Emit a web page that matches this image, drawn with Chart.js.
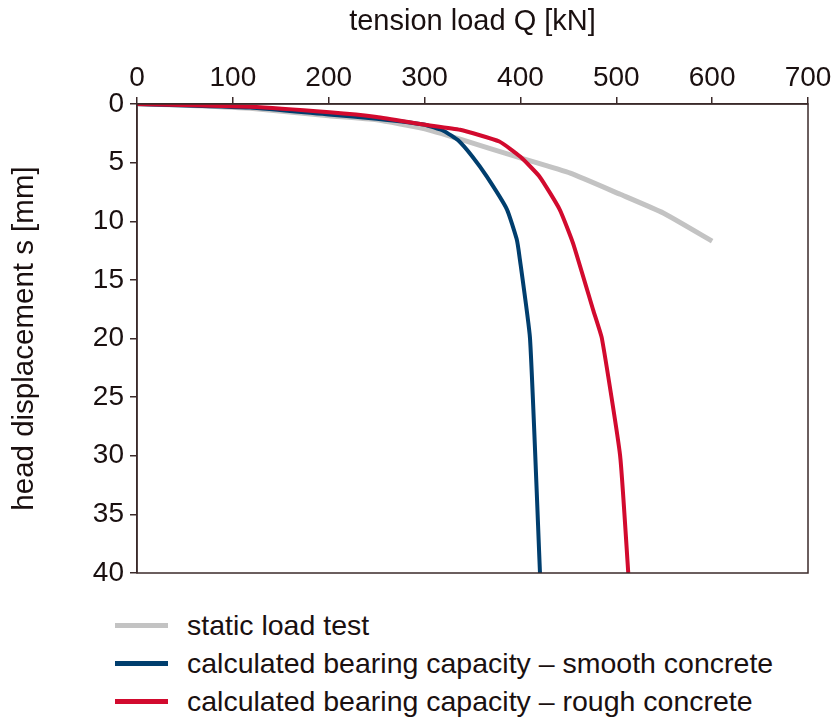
<!DOCTYPE html>
<html><head><meta charset="utf-8">
<script src="https://cdn.jsdelivr.net/npm/chart.js@4/dist/chart.umd.min.js"></script>
<style>
html,body{margin:0;padding:0;background:#fff;}
#wrap{position:relative;width:834px;height:600px;}
#legend{position:absolute;left:0;top:600px;width:834px;font-family:"Liberation Sans",Arial,sans-serif;font-size:28.5px;color:#1a1010;}
.li{position:absolute;left:115px;height:38px;display:flex;align-items:center;}
.sw{width:53px;height:5px;margin-right:19px;}
</style></head>
<body>
<div id="wrap"><canvas id="c" width="834" height="600"></canvas></div>
<div id="legend"></div>
<script>
const seriesNames = ["static load test","calculated bearing capacity \u2013 smooth concrete","calculated bearing capacity \u2013 rough concrete"];
const seriesColors = ["#c3c3c3","#003e6e","#d20a2e"];
const staticQ = [0,50,118,200,250,299,337,400,452,504,549,600];
const staticS = [0,0.1,0.37,1.0,1.35,2.1,3.0,4.6,5.9,7.7,9.3,11.7];
const smoothQ = [0,118,200,250,299,320,335,350,365,386,396,399,410,420.4];
const smoothS = [0,0.3,0.9,1.25,1.75,2.3,3.1,4.5,6.2,9.0,11.5,13,20,40];
const roughQ = [0,118,201,250,299,337,378,400,420,441,455,476,485,504,512.5];
const roughS = [0,0.23,0.7,1.1,1.75,2.2,3.2,4.5,6.2,9.0,11.9,17.6,20,30,40];
const xTicks = [0,100,200,300,400,500,600,700];
const yTicks = [0,5,10,15,20,25,30,35,40];

const pts = (q,s)=>q.map((v,i)=>({x:v,y:s[i]}));
const FONT = '"Liberation Sans",Arial,sans-serif';
const axisColor = '#3b2a2a';

const frame = {id:'frame',afterDatasetsDraw(chart){const a=chart.chartArea,ctx=chart.ctx;ctx.save();ctx.strokeStyle=axisColor;ctx.lineWidth=1.5;ctx.strokeRect(a.left,a.top,a.right-a.left,a.bottom-a.top);ctx.restore();}};

new Chart(document.getElementById('c'),{
  type:'line',
  data:{datasets:[
    {label:seriesNames[0],data:pts(staticQ,staticS),borderColor:seriesColors[0],borderWidth:5,pointRadius:0,tension:0.15,order:3},
    {label:seriesNames[1],data:pts(smoothQ,smoothS),borderColor:seriesColors[1],borderWidth:4,pointRadius:0,tension:0.15,order:2},
    {label:seriesNames[2],data:pts(roughQ,roughS),borderColor:seriesColors[2],borderWidth:4,pointRadius:0,tension:0.15,order:1}
  ]},
  options:{
    responsive:false,animation:false,
    layout:{padding:{left:0,right:26,top:0,bottom:27}},
    plugins:{legend:{display:false},tooltip:{enabled:false}},
    scales:{
      x:{type:'linear',position:'top',min:0,max:700,
        afterBuildTicks:s=>{s.ticks=xTicks.map(v=>({value:v}));},
        afterFit:s=>{s.height=104;},
        grid:{drawOnChartArea:false,drawTicks:true,tickLength:7,color:axisColor,lineWidth:1.5},
        border:{color:axisColor,width:1.5},
        ticks:{color:'#1a1010',font:{family:FONT,size:28},padding:2,maxRotation:0},
        title:{display:true,text:'tension load Q [kN]',color:'#1a1010',font:{family:FONT,size:29},padding:{top:5,bottom:0}}
      },
      y:{type:'linear',reverse:true,min:0,max:40,
        afterBuildTicks:s=>{s.ticks=yTicks.map(v=>({value:v}));},
        afterFit:s=>{s.width=137;},
        grid:{drawOnChartArea:false,drawTicks:true,tickLength:7,color:axisColor,lineWidth:1.5},
        border:{color:axisColor,width:1.5},
        ticks:{color:'#1a1010',font:{family:FONT,size:28},padding:6},
        title:{display:true,text:'head displacement s [mm]',color:'#1a1010',font:{family:FONT,size:29.5},padding:{top:7,bottom:0}}
      }
    }
  },
  plugins:[frame]
});

const lg=document.getElementById('legend');
seriesNames.forEach((n,i)=>{const d=document.createElement('div');d.className='li';d.style.top=(6+i*38)+'px';
  d.innerHTML='<span class="sw" style="background:'+seriesColors[i]+'"></span><span>'+n+'</span>';lg.appendChild(d);});
</script>
</body></html>
